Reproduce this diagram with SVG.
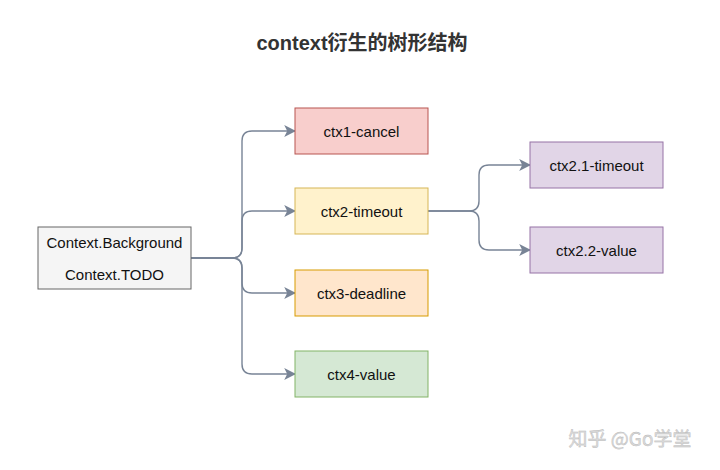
<svg xmlns="http://www.w3.org/2000/svg" width="720" height="470" viewBox="0 0 720 470">
<style>
.t{font-family:"Liberation Sans",Arial,sans-serif;font-size:15px;fill:#111;text-anchor:middle;dominant-baseline:central}
.c{fill:none;stroke:#788496;stroke-width:1.4}
</style>
<defs>
<marker id="a" viewBox="0 0 10 10" refX="9" refY="5" markerWidth="12" markerHeight="12" markerUnits="userSpaceOnUse" orient="auto">
<path d="M0,0 L10,5 L0,10 L2.5,5 Z" fill="#788496"/>
</marker>
</defs>
<rect width="720" height="470" fill="#fff"/>
<text x="362" y="43" font-family="'Liberation Sans','Noto Sans CJK SC',sans-serif" font-size="20" font-weight="bold" fill="#333" text-anchor="middle" dominant-baseline="central">context衍生的树形结构</text>
<g id="connectors">
<path class="c" marker-end="url(#a)" d="M191,258 H232 Q242,258 242,248 V141 Q242,131 252,131 H295"/>
<path class="c" marker-end="url(#a)" d="M191,258 H232 Q242,258 242,248 V221 Q242,211 252,211 H295"/>
<path class="c" marker-end="url(#a)" d="M191,258 H232 Q242,258 242,268 V283 Q242,293 252,293 H295"/>
<path class="c" marker-end="url(#a)" d="M191,258 H232 Q242,258 242,268 V364 Q242,374 252,374 H295"/>
<path class="c" marker-end="url(#a)" d="M428,211 H469 Q479,211 479,201 V175 Q479,165 489,165 H530"/>
<path class="c" marker-end="url(#a)" d="M428,211 H469 Q479,211 479,221 V240 Q479,250 489,250 H530"/>
</g>
<g id="root">
<rect x="38" y="227" width="153" height="62" fill="#f5f5f5" stroke="#666"/>
<text class="t" x="114.5" y="242">Context.Background</text>
<text class="t" x="114.5" y="274">Context.TODO</text>
</g>
<g id="ctx1">
<rect x="295" y="108" width="133" height="46" fill="#f8cecc" stroke="#b85450"/>
<text class="t" x="361.5" y="131">ctx1-cancel</text>
</g>
<g id="ctx2">
<rect x="295" y="188" width="133" height="46" fill="#fff2cc" stroke="#d6b656"/>
<text class="t" x="361.5" y="211">ctx2-timeout</text>
</g>
<g id="ctx3">
<rect x="295" y="270" width="133" height="46" fill="#ffe6cc" stroke="#d79b00"/>
<text class="t" x="361.5" y="293">ctx3-deadline</text>
</g>
<g id="ctx4">
<rect x="295" y="351" width="133" height="46" fill="#d5e8d4" stroke="#82b366"/>
<text class="t" x="361.5" y="374">ctx4-value</text>
</g>
<g id="ctx21">
<rect x="530" y="142" width="133" height="46" fill="#e1d5e7" stroke="#9673a6"/>
<text class="t" x="596.5" y="165">ctx2.1-timeout</text>
</g>
<g id="ctx22">
<rect x="530" y="227" width="133" height="46" fill="#e1d5e7" stroke="#9673a6"/>
<text class="t" x="596.5" y="250">ctx2.2-value</text>
</g>
<text x="630" y="437" font-family="'Noto Sans CJK SC','Noto Sans',sans-serif" font-size="19" fill="#dcdcdc" stroke="#b8b8b8" stroke-width="0.4" text-anchor="middle" dominant-baseline="central">知乎 @Go学堂</text>
</svg>
